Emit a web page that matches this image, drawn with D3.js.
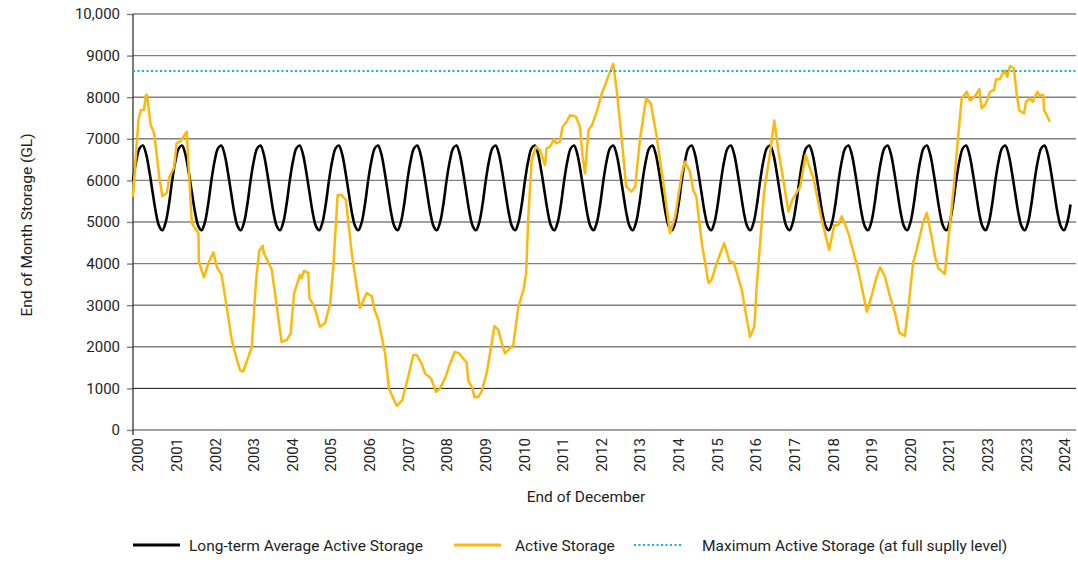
<!DOCTYPE html>
<html>
<head>
<meta charset="utf-8">
<script src="https://cdn.jsdelivr.net/npm/d3@7"></script>
<style>
  body { margin: 0; background: #fff; }
  svg text { font-family: Roboto, "Noto Sans", sans-serif; font-size: 15px; fill: #1e1e1e; }
</style>
</head>
<body>
<svg id="chart" width="1078" height="562"></svg>
<script>
// x labels as printed under the axis (the chart really shows 2023 twice)
const yearLabels = ['2000', '2001', '2002', '2003', '2004', '2005', '2006', '2007', '2008',
    '2009', '2010', '2011', '2012', '2013', '2014', '2015', '2016', '2017', '2018', '2019',
    '2020', '2021', '2023', '2023', '2024'];

const yTicks = [0, 1000, 2000, 3000, 4000, 5000, 6000, 7000, 8000, 9000, 10000];

// long-term average, one value per month of the year (repeats every year)
const avgMonthly = [6000, 6470, 6770, 6840, 6640, 6220, 5720, 5230, 4900, 4800, 4990, 5420];
const avgMonthCount = 288;

// active storage: [years since start, GL]
const activeStorage = [
    [0.00, 5610], [0.14, 7470], [0.20, 7690], [0.28, 7690], [0.33, 8050], [0.36, 8050],
    [0.45, 7330], [0.54, 7130], [0.67, 6090], [0.75, 5620], [0.86, 5700], [0.93, 6090],
    [1.05, 6310], [1.11, 6890], [1.20, 6930], [1.37, 7170], [1.50, 4970], [1.67, 4730],
    [1.68, 4050], [1.81, 3670], [1.92, 4010], [2.05, 4270], [2.15, 3890], [2.26, 3730],
    [2.39, 2960], [2.52, 2160], [2.63, 1760], [2.73, 1440], [2.81, 1400], [3.03, 2000],
    [3.14, 3610], [3.22, 4310], [3.31, 4430], [3.34, 4250], [3.54, 3850], [3.79, 2120],
    [3.92, 2160], [4.02, 2320], [4.11, 3290], [4.22, 3610], [4.26, 3730], [4.30, 3650],
    [4.36, 3830], [4.47, 3780], [4.50, 3170], [4.62, 2980], [4.77, 2480], [4.90, 2570],
    [5.03, 3050], [5.11, 3930], [5.22, 5650], [5.32, 5650], [5.43, 5530], [5.58, 4250],
    [5.79, 2930], [5.96, 3290], [6.09, 3220], [6.16, 2890], [6.26, 2640], [6.43, 1840],
    [6.53, 1000], [6.62, 800], [6.73, 580], [6.87, 720], [7.02, 1280], [7.15, 1800],
    [7.24, 1800], [7.36, 1600], [7.45, 1360], [7.60, 1240], [7.73, 920], [7.83, 1000],
    [7.96, 1240], [8.09, 1600], [8.21, 1880], [8.32, 1840], [8.51, 1620], [8.55, 1200],
    [8.66, 1000], [8.71, 790], [8.81, 800], [8.89, 920], [9.02, 1360], [9.15, 2080],
    [9.22, 2500], [9.32, 2400], [9.41, 2080], [9.49, 1840], [9.57, 1920], [9.70, 2040],
    [9.83, 2960], [9.96, 3370], [10.03, 3770], [10.08, 5050], [10.17, 6490], [10.28, 6810],
    [10.38, 6730], [10.51, 6370], [10.55, 6770], [10.64, 6810], [10.74, 6990], [10.79, 6890],
    [10.89, 6930], [10.96, 7290], [11.06, 7410], [11.15, 7570], [11.30, 7530], [11.40, 7290],
    [11.47, 6570], [11.53, 6170], [11.62, 7210], [11.71, 7330], [11.83, 7650], [11.96, 8090],
    [12.12, 8490], [12.25, 8800], [12.34, 8170], [12.47, 6970], [12.58, 5850], [12.72, 5730],
    [12.81, 5850], [12.93, 6970], [13.09, 7970], [13.21, 7850], [13.36, 7050], [13.53, 5930],
    [13.70, 4730], [13.83, 5130], [14.00, 6170], [14.08, 6450], [14.21, 6210], [14.29, 5770],
    [14.37, 5610], [14.51, 4490], [14.68, 3530], [14.76, 3610], [14.89, 4010], [15.08, 4490],
    [15.22, 4050], [15.33, 4020], [15.53, 3370], [15.63, 2810], [15.74, 2240], [15.85, 2480],
    [15.91, 3450], [15.99, 4410], [16.10, 5730], [16.25, 6650], [16.36, 7440], [16.46, 6730],
    [16.59, 6010], [16.72, 5250], [16.82, 5530], [17.02, 5850], [17.16, 6610], [17.31, 6170],
    [17.35, 6090], [17.57, 5050], [17.76, 4330], [17.89, 4930], [17.99, 4930], [18.08, 5140],
    [18.25, 4730], [18.50, 3850], [18.72, 2840], [18.85, 3250], [18.97, 3690], [19.06, 3910],
    [19.18, 3690], [19.31, 3210], [19.44, 2810], [19.55, 2340], [19.69, 2260], [19.78, 2960],
    [19.90, 4010], [19.99, 4330], [20.15, 4970], [20.25, 5220], [20.37, 4650], [20.46, 4170],
    [20.54, 3890], [20.71, 3750], [20.80, 4570], [20.93, 5770], [21.05, 7050], [21.14, 7970],
    [21.27, 8130], [21.35, 7920], [21.48, 8030], [21.59, 8190], [21.65, 7730], [21.76, 7850],
    [21.86, 8130], [21.96, 8170], [22.02, 8430], [22.12, 8430], [22.16, 8530], [22.24, 8640],
    [22.30, 8490], [22.37, 8750], [22.47, 8700], [22.54, 8090], [22.61, 7680], [22.73, 7610],
    [22.78, 7890], [22.88, 7970], [22.95, 7890], [23.07, 8130], [23.12, 8050], [23.22, 8050],
    [23.24, 7690], [23.31, 7570], [23.39, 7410]
];

const maxActiveStorage = 8630;

const svg = d3.select('#chart');
const plotLeft = 133, plotRight = 1076, plotTop = 14, plotBottom = 430;

let x = d3.scaleLinear().domain([0, 24]).range([plotLeft, plotLeft + 24 * 39.2]);
let y = d3.scaleLinear().domain([0, 10000]).range([plotBottom, plotTop]);
// labels sit on their own even spacing, slightly off the yearly cycle
let xLabel = d3.scaleLinear().domain([0, yearLabels.length - 1]).range([138, 1065]);

// Gridlines.
svg.append('g')
    .selectAll('line')
    .data(yTicks)
  .join('line')
    .attr('x1', plotLeft).attr('x2', plotRight)
    .attr('y1', d => y(d)).attr('y2', d => y(d))
    .attr('stroke', d => d === 1000 ? '#111' : '#808080')
    .attr('stroke-width', d => d === 1000 ? 1 : 1.4);

// Y axis labels.
let yAxis = svg.append('g')
    .attr('transform', `translate(${plotLeft},0)`)
    .call(d3.axisLeft(y)
        .tickValues(yTicks)
        .tickSize(6)
        .tickPadding(7)
        .tickFormat(d => d === 10000 ? d3.format(',')(d) : d));
yAxis.select('.domain').remove();
yAxis.selectAll('.tick line').attr('stroke', '#808080').attr('stroke-width', 1.4);
yAxis.selectAll('text').style('font-size', '15px').attr('fill', '#1e1e1e');

// Y axis line.
svg.append('line')
    .attr('x1', plotLeft).attr('x2', plotLeft)
    .attr('y1', plotTop).attr('y2', plotBottom + 5)
    .attr('stroke', '#333').attr('stroke-width', 1.3);

// X labels.
svg.append('g')
    .selectAll('text')
    .data(yearLabels)
  .join('text')
    .attr('transform', (d, i) => `translate(${xLabel(i)},438) rotate(-90)`)
    .attr('text-anchor', 'end')
    .attr('dy', '0.35em')
    .text(d => d);

// Axis titles.
svg.append('text')
    .attr('transform', 'translate(32,225) rotate(-90)')
    .attr('text-anchor', 'middle')
    .style('font-size', '15.5px')
    .text('End of Month Storage (GL)');

svg.append('text')
    .attr('x', 586).attr('y', 502)
    .attr('text-anchor', 'middle')
    .style('font-size', '15.5px')
    .text('End of December');

// Series.
let line = d3.line()
    .x(d => x(d[0]))
    .y(d => y(d[1]));

let avgSeries = d3.range(avgMonthCount).map(m => [m / 12, avgMonthly[m % 12]]);

svg.append('path')
    .datum(avgSeries)
    .attr('fill', 'none')
    .attr('stroke', '#000')
    .attr('stroke-width', 2.6)
    .attr('d', line.curve(d3.curveCatmullRom));

svg.append('path')
    .datum(activeStorage)
    .attr('fill', 'none')
    .attr('stroke', '#FDB90B')
    .attr('stroke-width', 2.5)
    .attr('stroke-linejoin', 'round')
    .attr('d', line.curve(d3.curveLinear));

svg.append('line')
    .attr('x1', plotLeft).attr('x2', plotRight)
    .attr('y1', y(maxActiveStorage)).attr('y2', y(maxActiveStorage))
    .attr('stroke', '#0FB2EE')
    .attr('stroke-width', 2.2)
    .attr('stroke-dasharray', '2,2.5');

// Legend.
const legendItems = [
    {label: 'Long-term Average Active Storage', x1: 133, x2: 180, tx: 189, color: '#000', dash: null},
    {label: 'Active Storage', x1: 454, x2: 501, tx: 515, color: '#FDB90B', dash: null},
    {label: 'Maximum Active Storage (at full suplly level)', x1: 634, x2: 683, tx: 702, color: '#0FB2EE', dash: '2,2.5'}
];

let legend = svg.append('g').selectAll('g')
    .data(legendItems)
  .join('g');

legend.append('line')
    .attr('x1', d => d.x1).attr('x2', d => d.x2)
    .attr('y1', 545).attr('y2', 545)
    .attr('stroke', d => d.color)
    .attr('stroke-width', d => d.dash ? 2.2 : 3)
    .attr('stroke-dasharray', d => d.dash);

legend.append('text')
    .attr('x', d => d.tx).attr('y', 550.5)
    .style('font-size', '15.5px')
    .text(d => d.label);
</script>
</body>
</html>
